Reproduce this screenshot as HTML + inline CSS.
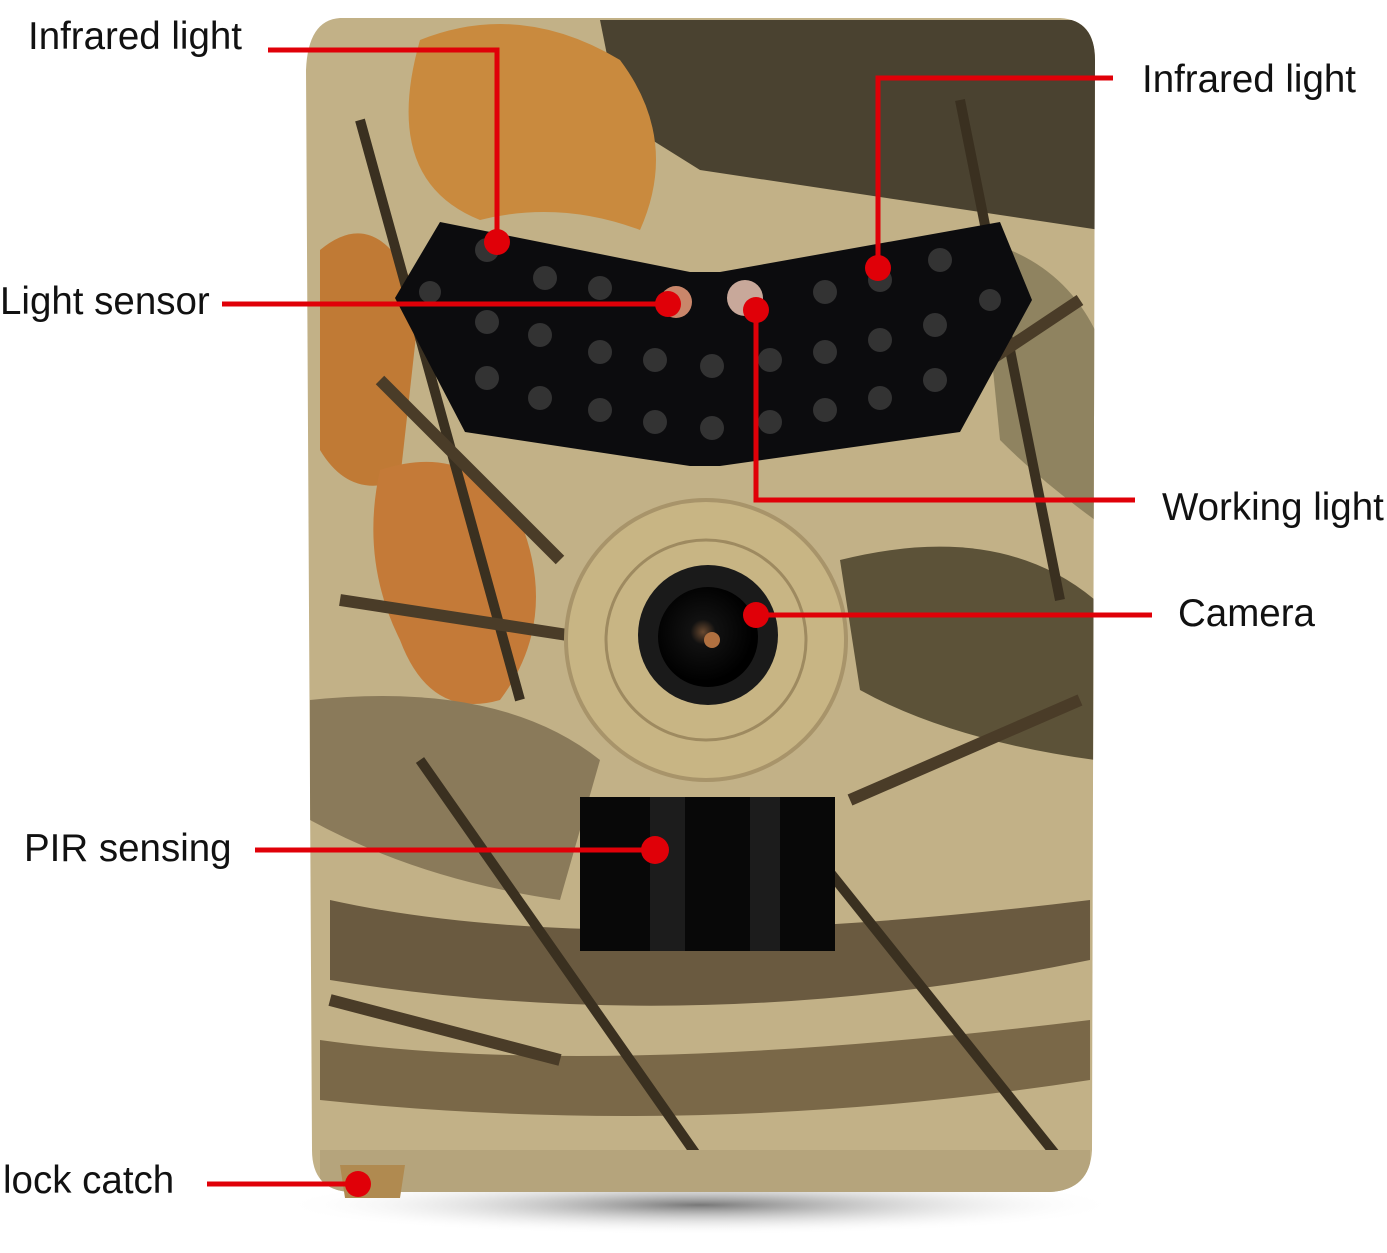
<!DOCTYPE html>
<html><head><meta charset="utf-8"><style>
html,body{margin:0;padding:0;background:#fff;}
body{width:1387px;height:1253px;position:relative;overflow:hidden;font-family:"Liberation Sans",sans-serif;}
.t{position:absolute;font-size:38.5px;color:#111;line-height:1;white-space:nowrap;}
svg{position:absolute;left:0;top:0;}
</style></head><body>
<svg width="1387" height="1253" viewBox="0 0 1387 1253">
<defs>
<radialGradient id="sh" cx="0.5" cy="0.5" r="0.5"><stop offset="0" stop-color="#777"/><stop offset="1" stop-color="#fff" stop-opacity="0"/></radialGradient>
<clipPath id="body"><path d="M340 18 L1060 18 Q1095 20 1095 60 L1092 1150 Q1090 1190 1050 1192 L350 1192 Q312 1190 312 1150 L306 70 Q308 20 340 18 Z"/></clipPath>
<radialGradient id="lens" cx="0.45" cy="0.45" r="0.5"><stop offset="0" stop-color="#6a4a30"/><stop offset="0.25" stop-color="#111"/><stop offset="1" stop-color="#000"/></radialGradient>
</defs>
<ellipse cx="700" cy="1205" rx="420" ry="30" fill="url(#sh)"/>
<g clip-path="url(#body)">
<rect x="300" y="10" width="800" height="1190" fill="#c2b187"/>
<path d="M600 20 L1100 20 L1100 230 L900 200 L700 170 L620 120 Z" fill="#4a4230"/>
<path d="M420 40 Q520 0 620 60 Q680 140 640 230 Q560 200 480 220 Q380 180 420 40 Z" fill="#c98a3e"/>
<path d="M320 250 Q380 200 420 300 L400 480 Q350 500 320 450 Z" fill="#c07a35"/>
<path d="M380 470 Q470 440 520 520 Q560 620 500 700 Q430 720 400 640 Q360 560 380 470 Z" fill="#c47a38"/>
<path d="M310 700 Q500 680 600 760 L560 900 Q420 880 310 820 Z" fill="#8a7a5a"/>
<path d="M840 560 Q1000 520 1095 600 L1095 760 Q950 740 860 690 Z" fill="#5c5238"/>
<path d="M980 240 Q1060 260 1095 330 L1095 520 Q1040 480 1000 440 Z" fill="#8f8360"/>
<path d="M330 900 Q600 960 1090 900 L1090 960 Q700 1040 330 980 Z" fill="#6a5a40"/>
<path d="M320 1040 Q600 1080 1090 1020 L1090 1080 Q700 1140 320 1100 Z" fill="#7a6848"/>
<path d="M360 120 L520 700 M960 100 L1060 600 M420 760 L700 1160 M820 860 L1060 1160" stroke="#3a3020" stroke-width="10" fill="none"/>
<path d="M380 380 L560 560 M900 420 L1080 300 M340 600 L600 640 M850 800 L1080 700 M330 1000 L560 1060 M600 700 L700 560" stroke="#4a3c28" stroke-width="12" fill="none"/>
<path d="M320 1150 L1090 1150 L1090 1200 L320 1200 Z" fill="#b5a47c"/>
</g>
<path d="M440 222 L690 272 L720 272 L1000 222 L1032 300 L960 432 L720 466 L690 466 L465 432 L395 298 Z" fill="#0c0c0e"/>
<g fill="#333">
<circle cx="487" cy="250" r="12"/><circle cx="545" cy="278" r="12"/><circle cx="600" cy="288" r="12"/><circle cx="430" cy="292" r="11"/>
<circle cx="825" cy="292" r="12"/><circle cx="880" cy="280" r="12"/><circle cx="940" cy="260" r="12"/><circle cx="990" cy="300" r="11"/>
<circle cx="487" cy="322" r="12"/><circle cx="540" cy="335" r="12"/><circle cx="600" cy="352" r="12"/><circle cx="655" cy="360" r="12"/><circle cx="712" cy="366" r="12"/><circle cx="770" cy="360" r="12"/><circle cx="825" cy="352" r="12"/><circle cx="880" cy="340" r="12"/><circle cx="935" cy="325" r="12"/>
<circle cx="487" cy="378" r="12"/><circle cx="540" cy="398" r="12"/><circle cx="600" cy="410" r="12"/><circle cx="655" cy="422" r="12"/><circle cx="712" cy="428" r="12"/><circle cx="770" cy="422" r="12"/><circle cx="825" cy="410" r="12"/><circle cx="880" cy="398" r="12"/><circle cx="935" cy="380" r="12"/>
</g>
<circle cx="676" cy="302" r="16" fill="#c9866a"/>
<circle cx="745" cy="298" r="18" fill="#c8a89a"/>
<circle cx="706" cy="640" r="140" fill="#c8b584" stroke="#a8946a" stroke-width="4"/>
<circle cx="706" cy="640" r="100" fill="none" stroke="#9e8a60" stroke-width="3"/>
<circle cx="708" cy="635" r="70" fill="#1a1a1a"/>
<circle cx="708" cy="637" r="50" fill="url(#lens)"/>
<circle cx="712" cy="640" r="8" fill="#b07040"/>
<rect x="580" y="797" width="255" height="154" fill="#080808"/>
<rect x="650" y="797" width="35" height="154" fill="#1c1c1c"/>
<rect x="750" y="797" width="30" height="154" fill="#1c1c1c"/>
<path d="M340 1165 L405 1165 L400 1198 L345 1198 Z" fill="#b08a50"/>
<g stroke="#e00008" stroke-width="5" fill="none">
<polyline points="268,50 497,50 497,240"/>
<polyline points="1113,78 878,78 878,268"/>
<line x1="222" y1="304" x2="668" y2="304"/>
<polyline points="756,308 756,500 1135,500"/>
<line x1="756" y1="615" x2="1152" y2="615"/>
<line x1="255" y1="850" x2="655" y2="850"/>
<line x1="207" y1="1184" x2="358" y2="1184"/>
</g>
<g fill="#e00008">
<circle cx="497" cy="242" r="13"/><circle cx="878" cy="268" r="13"/><circle cx="668" cy="304" r="13"/>
<circle cx="756" cy="310" r="13"/><circle cx="756" cy="615" r="13"/><circle cx="655" cy="850" r="14"/><circle cx="358" cy="1184" r="13"/>
</g>
</svg>
<div class="t" style="left:28px;top:18px">Infrared light</div>
<div class="t" style="left:1142px;top:61px">Infrared light</div>
<div class="t" style="left:0px;top:283px">Light sensor</div>
<div class="t" style="left:1162px;top:489px">Working light</div>
<div class="t" style="left:1178px;top:595px">Camera</div>
<div class="t" style="left:24px;top:830px">PIR sensing</div>
<div class="t" style="left:3px;top:1162px">lock catch</div>
</body></html>
